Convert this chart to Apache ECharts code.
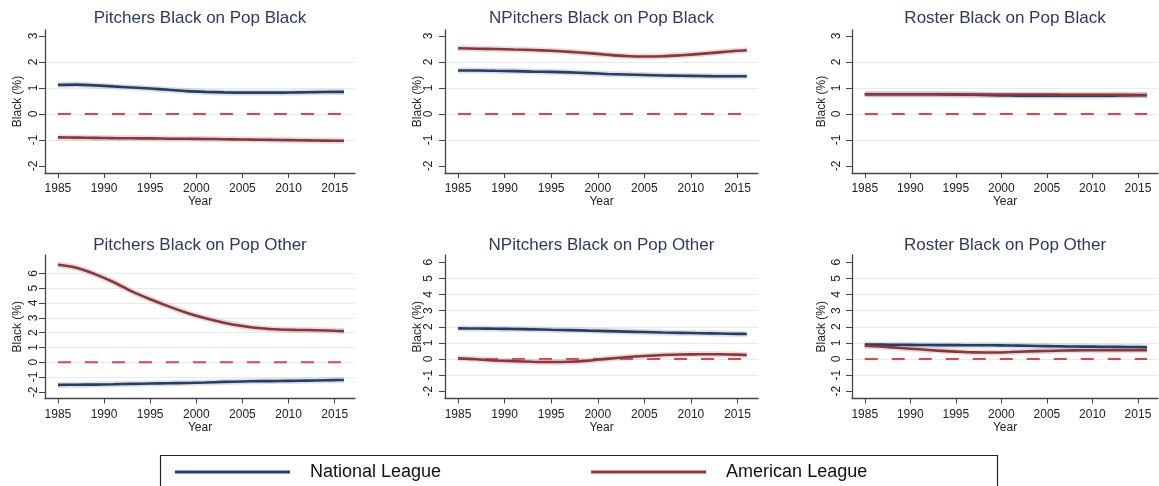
<!DOCTYPE html>
<html><head><meta charset="utf-8">
<script src="https://cdn.jsdelivr.net/npm/echarts@6/dist/echarts.min.js"></script>
<style>html,body{margin:0;padding:0;background:#fff}#c{width:1159px;height:486px}</style>
</head><body><div id="c"></div>
<script>
// ---------- data ----------
const years = [1985,1987,1989,1991,1993,1995,1997,1999,2001,2003,2005,2007,2009,2011,2013,2015,2016];
const xTicks = [1985,1990,1995,2000,2005,2010,2015];
const yTicksTop = [-2,-1,0,1,2,3];
const yTicksBottom = [-2,-1,0,1,2,3,4,5,6];
const seriesNames = ['National League','American League'];
const titles = ['Pitchers Black on Pop Black','NPitchers Black on Pop Black','Roster Black on Pop Black',
                'Pitchers Black on Pop Other','NPitchers Black on Pop Other','Roster Black on Pop Other'];
const yAxisTitle = 'Black (%)';
const xAxisTitle = 'Year';

const p1NL = [1.12,1.13,1.10,1.06,1.02,0.98,0.93,0.88,0.85,0.83,0.82,0.82,0.82,0.83,0.84,0.85,0.85];
const p1AL = [-0.90,-0.91,-0.92,-0.93,-0.935,-0.94,-0.95,-0.955,-0.96,-0.97,-0.98,-0.99,-1.00,-1.01,-1.02,-1.03,-1.03];
const p2NL = [1.67,1.67,1.66,1.65,1.63,1.62,1.60,1.57,1.54,1.52,1.50,1.48,1.47,1.46,1.45,1.45,1.45];
const p2AL = [2.53,2.51,2.50,2.48,2.46,2.43,2.39,2.34,2.28,2.23,2.21,2.22,2.26,2.31,2.37,2.43,2.45];
const p3NL = [0.76,0.76,0.76,0.76,0.76,0.75,0.74,0.72,0.71,0.70,0.70,0.70,0.70,0.70,0.71,0.72,0.72];
const p3AL = [0.76,0.76,0.76,0.76,0.76,0.75,0.75,0.75,0.75,0.75,0.75,0.74,0.74,0.74,0.74,0.73,0.73];
const p4NL = [-1.53,-1.52,-1.51,-1.49,-1.46,-1.44,-1.42,-1.40,-1.37,-1.33,-1.30,-1.28,-1.27,-1.25,-1.23,-1.21,-1.20];
const p4AL = [6.58,6.38,5.95,5.42,4.78,4.25,3.77,3.33,2.97,2.67,2.45,2.29,2.21,2.18,2.16,2.12,2.10];
const p5NL = [1.90,1.89,1.88,1.86,1.84,1.81,1.79,1.76,1.73,1.70,1.67,1.64,1.62,1.60,1.58,1.56,1.55];
const p5AL = [0.05,-0.02,-0.09,-0.13,-0.17,-0.19,-0.17,-0.10,0.01,0.11,0.19,0.25,0.28,0.29,0.29,0.27,0.25];
const p6NL = [0.90,0.89,0.88,0.87,0.86,0.86,0.85,0.85,0.84,0.82,0.80,0.78,0.77,0.76,0.75,0.74,0.73];
const p6AL = [0.82,0.76,0.68,0.60,0.52,0.46,0.41,0.40,0.43,0.47,0.50,0.53,0.54,0.55,0.55,0.55,0.55];

const panelNL = [p1NL,p2NL,p3NL,p4NL,p5NL,p6NL];
const panelAL = [p1AL,p2AL,p3AL,p4AL,p5AL,p6AL];

// ---------- layout / style ----------
const FONT = '"Liberation Sans", Arial, sans-serif';
const NL_COLOR = '#1f406b';
const AL_COLOR = '#963139';
const colLeft = [45, 445, 852];
const colWidth = [310, 313, 306];
const rowTop = [30, 255];
const rowHeight = [143, 143.5];
const titleTop = [10, 237];
const yRange = [[-2.27,3.23],[-2.27,3.23],[-2.27,3.23],[-2.45,7.24],[-2.45,6.45],[-2.45,6.45]];
const showTopGrid = [false,false,false,true,false,false];
const labelMargin = [5,10.5,9,5,10.5,9];
const nameGap = [21,21,24,21,21,24];
const xExtent = [1983.6, 2017.2];

const grids = [], xAxes = [], yAxes = [], series = [], titleArr = [];
for (let i = 0; i < 6; i++) {
  const r = Math.floor(i/3), c = i%3;
  grids.push({left: colLeft[c], top: rowTop[r], width: colWidth[c], height: rowHeight[r], outerBoundsMode: 'none', containLabel: false});
  titleArr.push({
    text: titles[i], left: colLeft[c] + colWidth[c]/2, top: titleTop[r], textAlign: 'center', padding: 0,
    textStyle: {fontFamily: FONT, fontSize: 17, fontWeight: 'normal', color: '#2b3a5e'}
  });
  xAxes.push({
    gridIndex: i, type: 'value', min: xExtent[0], max: xExtent[1],
    name: xAxisTitle, nameLocation: 'middle', nameGap: 22,
    nameTextStyle: {fontFamily: FONT, fontSize: 12, color: '#222'},
    axisLine: {show: true, onZero: false, lineStyle: {color: '#444', width: 1.3}},
    axisTick: {show: true, length: 5, lineStyle: {color: '#444'}, customValues: xTicks},
    axisLabel: {fontFamily: FONT, fontSize: 12, color: '#222', margin: 10, customValues: xTicks,
                formatter: v => String(v)},
    splitLine: {show: false}
  });
  const yt = r === 0 ? yTicksTop : yTicksBottom;
  yAxes.push({
    gridIndex: i, type: 'value', min: yRange[i][0], max: yRange[i][1],
    name: yAxisTitle, nameLocation: 'middle', nameRotate: 90, nameGap: nameGap[i], nameMoveOverlap: false,
    nameTextStyle: {fontFamily: FONT, fontSize: 12, color: '#222'},
    axisLine: {show: true, onZero: false, lineStyle: {color: '#444', width: 1.3}},
    axisTick: {show: true, length: 6, lineStyle: {color: '#444'}, customValues: yt},
    axisLabel: {fontFamily: FONT, fontSize: 12, color: '#222', rotate: 90, margin: labelMargin[i], customValues: yt},
    splitLine: {show: true, showMinLine: false, showMaxLine: showTopGrid[i], lineStyle: {color: '#e3edf0', width: 1.2}}
  });
  const pairs = arr => years.map((y, k) => [y, arr[k]]);
  series.push({
    type: 'line', xAxisIndex: i, yAxisIndex: i, silent: true, symbol: 'none', z: 1,
    data: [[years[0], 0], [years[years.length-1], 0]],
    lineStyle: {color: '#e83f48', width: 2, type: [13, 14]}
  });
  const lines = [[seriesNames[0], panelNL[i], NL_COLOR], [seriesNames[1], panelAL[i], AL_COLOR]];
  lines.forEach(([nm, arr, col]) => {
    series.push({
      type: 'line', name: nm + ' CI', xAxisIndex: i, yAxisIndex: i, symbol: 'none', silent: true,
      smooth: 0.3, z: 2,
      data: pairs(arr), lineStyle: {color: 'rgba(150,150,150,0.3)', width: 6}
    });
    series.push({
      type: 'line', name: nm, xAxisIndex: i, yAxisIndex: i, symbol: 'none',
      smooth: 0.3, z: 3,
      data: pairs(arr), itemStyle: {color: col}, lineStyle: {color: col, width: 2.6}
    });
  });
}

const chart = echarts.init(document.getElementById('c'), null, {renderer: 'canvas'});
chart.setOption({
  backgroundColor: '#fff',
  animation: false,
  title: titleArr,
  grid: grids,
  xAxis: xAxes,
  yAxis: yAxes,
  series: series,
  legend: {
    data: seriesNames, left: 170, top: 458, icon: 'rect', itemWidth: 115, itemHeight: 3, itemGap: 150,
    selectedMode: false,
    textStyle: {fontFamily: FONT, fontSize: 18, color: '#111', padding: [0, 0, 0, 15]}
  },
  graphic: [{
    type: 'rect', shape: {x: 160.5, y: 455.5, width: 837, height: 31},
    style: {fill: 'none', stroke: '#222', lineWidth: 1.2}, silent: true
  }]
});
</script>
</body></html>
